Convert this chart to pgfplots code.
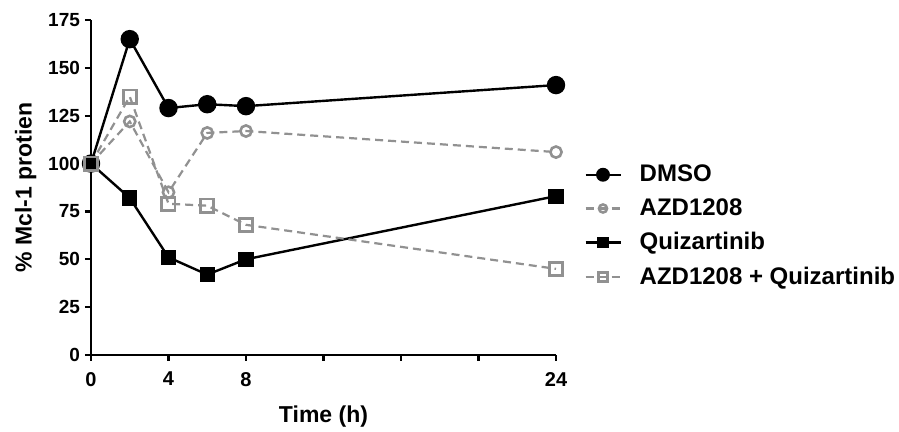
\documentclass[border=0pt]{standalone}
\usepackage{fontspec}
\setmainfont{Liberation Sans}
\usepackage{pgfplots}
\pgfplotsset{compat=1.18}
\definecolor{midgray}{RGB}{145,145,145}

\begin{document}
\begin{tikzpicture}
\useasboundingbox (-45.5pt,-38.5pt) rectangle (404pt,177.5pt);
\begin{axis}[
  scale only axis, width=232.5pt, height=167.5pt,
  xmin=0, xmax=24, ymin=0, ymax=175,
  axis x line=bottom, axis y line=left,
  axis line style={-, line width=1.4pt},
  clip=false,
  xtick={0,4,...,24}, xticklabels={0,4,8,,,,24},
  ytick={0,25,...,175},
  tick align=outside, major tick length=3pt,
  tick style={line width=1.1pt, black},
  /pgf/number format/assume math mode=true,
  xticklabel style={font=\fontsize{10}{12}\selectfont\bfseries, yshift=-2pt},
  yticklabel style={font=\fontsize{9.5}{11}\selectfont\bfseries, xshift=1pt},
  xlabel={Time (h)}, ylabel={\% Mcl-1 protien},
  label style={font=\fontsize{11.5}{13}\selectfont\bfseries},
  xlabel style={yshift=-3pt},
  ylabel style={yshift=-1pt},
  legend style={at={(rel axis cs:1.06,0.385)}, anchor=west, draw=none, fill=none,
    font=\fontsize{12}{14}\selectfont\bfseries, row sep=3pt, inner sep=0pt,
    /tikz/every odd column/.append style={column sep=7pt}},
  legend cell align=left,
  legend image code/.code={\draw[mark repeat=2,mark phase=2,#1,every mark/.append style={scale=0.72}] plot coordinates {(0pt,0pt) (8.75pt,0pt) (17.5pt,0pt)};},
]
\addplot[black, line width=1.2pt, mark=*, mark size=4pt, mark options={solid}]
  coordinates {(0,100) (2,165) (4,129) (6,131) (8,130) (24,141)};
\addlegendentry{DMSO}
\addplot[midgray, line width=1.1pt, dash pattern=on 4pt off 2.5pt, mark=o, mark size=2.8pt,
  mark options={solid, fill=white, line width=1.3pt}]
  coordinates {(0,100) (2,122) (4,85) (6,116) (8,117) (24,106)};
\addlegendentry{AZD1208}
\addplot[black, line width=1.2pt, mark=square*, mark size=3.2pt, mark options={solid}]
  coordinates {(0,100) (2,82) (4,51) (6,42) (8,50) (24,83)};
\addlegendentry{Quizartinib}
\addplot[midgray, line width=1.1pt, dash pattern=on 4pt off 2.5pt, mark=square, mark size=3.3pt,
  mark options={solid, fill=white, line width=1.4pt}]
  coordinates {(0,100) (2,135) (4,79) (6,78) (8,68) (24,45)};
\addlegendentry{AZD1208 + Quizartinib}
\end{axis}
\end{tikzpicture}
\end{document}
